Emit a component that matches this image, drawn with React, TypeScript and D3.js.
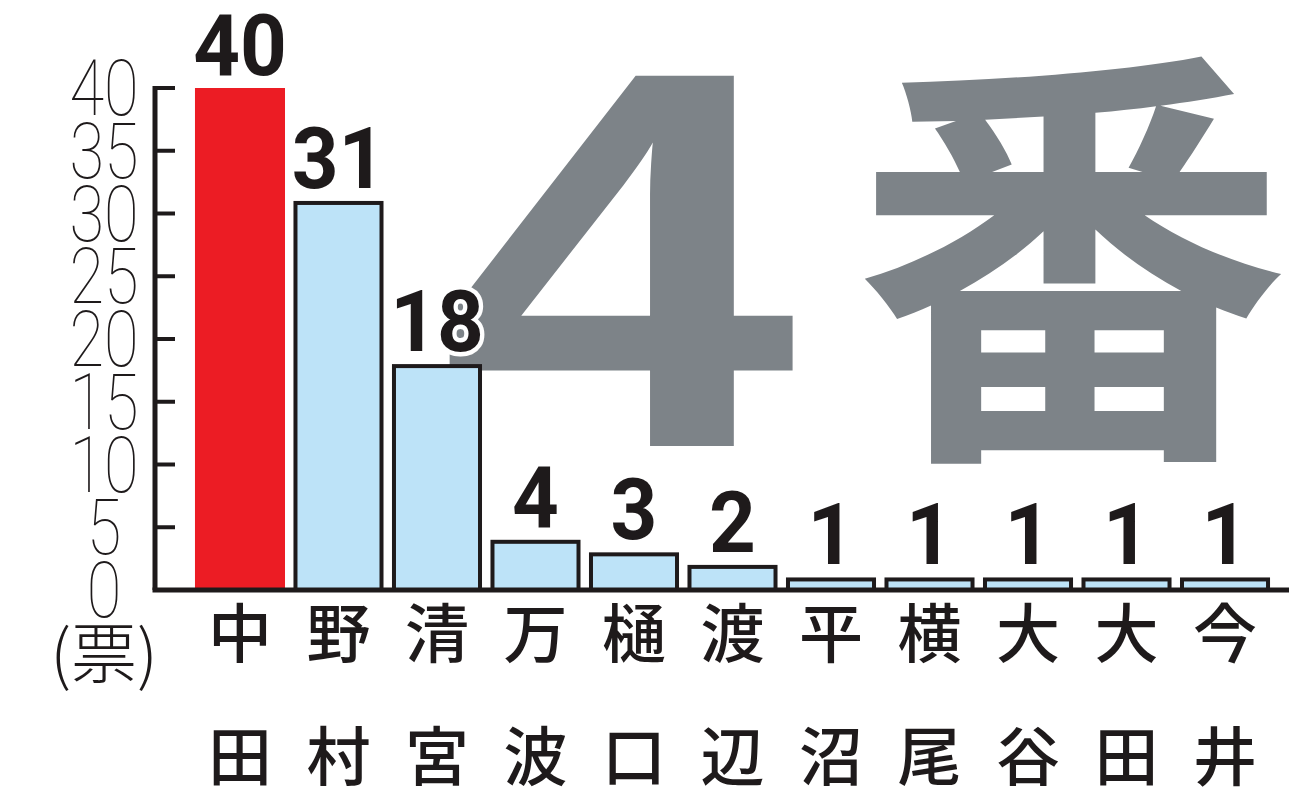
import React from "react";
import * as d3 from "d3";

const names: string[] = ["中田", "野村", "清宮", "万波", "樋口", "渡辺", "平沼", "横尾", "大谷", "大田", "今井"];
const votes: number[] = [40, 31, 18, 4, 3, 2, 1, 1, 1, 1, 1];
const yTicks: number[] = [0, 5, 10, 15, 20, 25, 30, 35, 40];
const unitLabel = "(票)";
const bigNumber = "4";
const bigChar = "番";
const highlight = "中田";

const W = 1300;
const H = 802;
const INK = "#1e1a1b";
const RED = "#ec1c24";
const BLUE = "#bde3f8";
const GRAY = "#7d8388";

export default function App() {
  const x = d3.scaleBand<string>().domain(names).range([186.5, 1278.5]).paddingInner(0.086).paddingOuter(0.086);
  const y = d3.scaleLinear().domain([0, 40]).range([590, 88]);
  const axisX = 155;
  const baseY = y(0);

  return (
    <div style={{ position: "absolute", left: 0, top: 0 }}>
      <svg width={W} height={H} viewBox={`0 0 ${W} ${H}`} style={{ display: "block", background: "#fff" }}>
        {/* big background text */}
        <g fill={GRAY}>
          <text
            transform="translate(618,446) scale(1.19,1)"
            textAnchor="middle"
            fontFamily="'Liberation Sans', Arial, sans-serif"
            fontWeight={700}
            fontSize={538}
          >
            {bigNumber}
          </text>
          <text
            x={1071}
            y={424}
            textAnchor="middle"
            fontFamily="'Noto Sans CJK JP', sans-serif"
            fontWeight={700}
            fontSize={436}
          >
            {bigChar}
          </text>
        </g>

        {/* y axis */}
        <line x1={axisX} x2={axisX} y1={y(40) - 2} y2={baseY} stroke={INK} strokeWidth={5} />
        {yTicks.map((t) => (
          <g key={t}>
            {t > 0 && <line x1={axisX} x2={175} y1={y(t)} y2={y(t)} stroke={INK} strokeWidth={4} />}
            <text
              transform={`translate(104,${y(t) + 27}) scale(0.82,1)`}
              textAnchor="middle"
              fontFamily="Roboto, sans-serif"
              fontWeight={100}
              fontSize={77}
              fill={INK}
            >
              {t}
            </text>
          </g>
        ))}
        <text
          x={104}
          y={678}
          textAnchor="middle"
          fontFamily="'Noto Sans CJK JP', sans-serif"
          fontWeight={300}
          fontSize={66}
          fill={INK}
        >
          {unitLabel}
        </text>

        {/* bars */}
        {names.map((n, i) => {
          const bx = x(n)!;
          const bw = x.bandwidth();
          const top = y(votes[i]);
          const isHi = n === highlight;
          return isHi ? (
            <rect key={n} x={bx} y={top} width={bw} height={baseY - top} fill={RED} />
          ) : (
            <rect
              key={n}
              x={bx + 2}
              y={top + 2}
              width={bw - 4}
              height={baseY - top - 2}
              fill={BLUE}
              stroke={INK}
              strokeWidth={4}
            />
          );
        })}

        {/* baseline */}
        <line x1={axisX - 2.5} x2={1289} y1={baseY} y2={baseY} stroke={INK} strokeWidth={5} />

        {/* value labels */}
        {names.map((n, i) => (
          <text
            key={n}
            transform={`translate(${x(n)! + x.bandwidth() / 2},${y(votes[i]) - 13}) scale(0.95,1)`}
            textAnchor="middle"
            fontFamily="Roboto, sans-serif"
            fontWeight={700}
            fontSize={86}
            fill={INK}
            stroke="#fff"
            strokeWidth={9}
            strokeLinejoin="round"
            paintOrder="stroke"
          >
            {votes[i]}
          </text>
        ))}

        {/* category labels, two rows */}
        {names.map((n) => (
          <g key={n} fontFamily="'Noto Sans CJK JP', sans-serif" fontWeight={500} fontSize={64} fill={INK} textAnchor="middle">
            <text x={x(n)! + x.bandwidth() / 2} y={657}>
              {n[0]}
            </text>
            <text x={x(n)! + x.bandwidth() / 2} y={780}>
              {n[1]}
            </text>
          </g>
        ))}
      </svg>
    </div>
  );
}
